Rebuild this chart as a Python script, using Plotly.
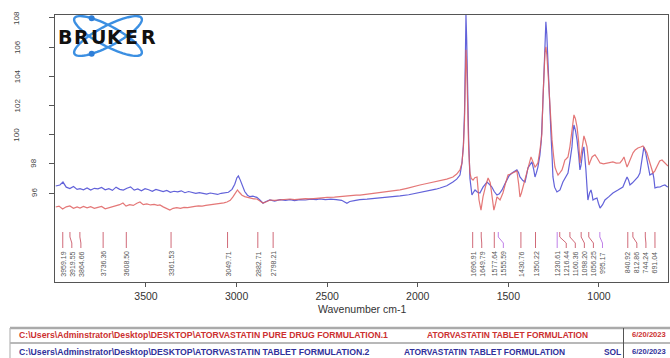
import numpy as np
import plotly.graph_objects as go

# ---------------- data ----------------
wn_blue = [3998, 3975, 3958, 3940, 3920, 3900, 3880, 3864, 3845, 3825, 3805, 3785, 3765, 3745, 3725, 3705,
           3685, 3665, 3645, 3625, 3605, 3585, 3565, 3545, 3525, 3505, 3485, 3465, 3445, 3425, 3405, 3385,
           3365, 3345, 3325, 3305, 3285, 3265, 3245, 3225, 3205, 3185, 3165, 3145, 3125, 3105, 3085, 3064,
           3045, 3025, 3010, 2998, 2990, 2980, 2968, 2955, 2940, 2926, 2910, 2888, 2870, 2854, 2840, 2816,
           2790, 2760, 2730, 2705, 2680, 2650, 2620, 2590, 2560, 2540, 2510, 2480, 2450, 2420, 2391, 2375,
           2350, 2320, 2280, 2240, 2209, 2160, 2120, 2098, 2050, 2020, 1988, 1940, 1900, 1877, 1840, 1806,
           1785, 1767, 1756, 1748, 1742, 1737, 1734, 1730, 1725, 1719, 1712, 1708, 1701, 1690, 1684, 1670,
           1657, 1640, 1618, 1605, 1591, 1578, 1563, 1550, 1535, 1520, 1508, 1495, 1480, 1465, 1453, 1444,
           1436, 1420, 1408, 1400, 1392, 1380, 1370, 1360, 1353, 1345, 1337, 1326, 1318, 1310, 1304, 1298,
           1293, 1288, 1281, 1274, 1265, 1258, 1254, 1245, 1232, 1222, 1215, 1199, 1185, 1171, 1160, 1149,
           1143, 1138, 1130, 1121, 1112, 1105, 1099, 1094, 1088, 1083, 1078, 1072, 1066, 1061, 1052, 1044,
           1038, 1033, 1022, 1011, 1003, 994, 980, 967, 945, 923, 895, 868, 855, 845, 837, 829,
           815, 801, 785, 774, 762, 752, 743, 735, 727, 719, 710, 702, 697, 691, 678, 663,
           650, 636, 625, 619]
val_blue = [96.48, 96.55, 96.75, 96.40, 96.30, 96.45, 96.25, 96.30, 96.22, 96.35, 96.20, 96.32, 96.28, 96.38, 96.22, 96.30,
            96.18, 96.40, 96.25, 96.20, 96.33, 96.42, 96.20, 96.28, 96.15, 96.30, 96.22, 96.12, 96.25, 96.20, 96.10, 96.18,
            96.05, 96.12, 96.08, 96.15, 96.02, 96.10, 96.05, 95.98, 96.02, 95.95, 95.92, 96.00, 95.95, 95.90, 95.98, 96.00,
            96.05, 96.25, 96.60, 97.05, 97.17, 96.90, 96.45, 96.10, 95.85, 95.75, 95.78, 95.70, 95.50, 95.30, 95.40, 95.52,
            95.45, 95.55, 95.50, 95.55, 95.48, 95.55, 95.52, 95.58, 95.55, 95.60, 95.55, 95.58, 95.55, 95.50, 95.30, 95.42,
            95.48, 95.55, 95.58, 95.62, 95.66, 95.72, 95.76, 95.80, 95.88, 95.95, 96.07, 96.18, 96.26, 96.34, 96.50, 96.75,
            96.95, 97.23, 98.06, 99.30, 101.5, 105.5, 108.2, 106.5, 103.0, 99.6, 97.0, 96.4, 95.86, 96.10, 96.21, 96.05,
            96.00, 96.40, 96.75, 96.60, 96.41, 96.10, 95.86, 95.95, 96.21, 96.60, 96.89, 97.20, 97.37, 97.50, 97.58, 97.40,
            97.10, 96.85, 96.75, 97.20, 97.72, 97.95, 98.13, 97.60, 97.10, 97.40, 97.78, 98.60, 99.64, 102.0, 104.64, 106.8,
            107.73, 106.9, 104.64, 102.0, 100.12, 98.30, 97.10, 96.40, 96.07, 96.15, 96.21, 96.75, 97.10, 97.37, 98.20, 99.16,
            100.2, 100.66, 100.3, 99.64, 98.60, 97.58, 97.90, 98.47, 99.0, 99.16, 98.60, 97.58, 96.40, 95.52, 96.00, 96.21,
            95.90, 95.52, 95.60, 95.66, 95.30, 94.97, 95.20, 95.52, 95.75, 96.00, 96.20, 96.41, 96.80, 97.10, 96.90, 96.55,
            96.70, 96.89, 97.10, 97.37, 98.20, 99.16, 98.80, 98.26, 97.70, 97.23, 97.30, 97.37, 97.00, 96.34, 96.40, 96.41,
            96.50, 96.55, 96.45, 96.41]

wn_red = [3998, 3980, 3960, 3940, 3920, 3900, 3880, 3864, 3845, 3825, 3805, 3785, 3765, 3745, 3725, 3705,
          3685, 3665, 3645, 3627, 3610, 3590, 3570, 3550, 3533, 3515, 3495, 3475, 3455, 3435, 3423, 3405,
          3385, 3368, 3350, 3330, 3310, 3290, 3270, 3250, 3230, 3210, 3190, 3170, 3150, 3130, 3110, 3090,
          3070, 3053, 3035, 3020, 3005, 2995, 2985, 2970, 2955, 2940, 2926, 2905, 2888, 2870, 2854, 2835,
          2816, 2790, 2760, 2730, 2705, 2680, 2650, 2620, 2590, 2560, 2540, 2500, 2460, 2420, 2380, 2340,
          2319, 2280, 2240, 2200, 2160, 2120, 2098, 2060, 2020, 1988, 1950, 1910, 1877, 1840, 1806, 1785,
          1767, 1756, 1748, 1742, 1737, 1734, 1730, 1725, 1719, 1712, 1705, 1695, 1685, 1673, 1662, 1651,
          1640, 1625, 1612, 1600, 1591, 1580, 1570, 1563, 1546, 1530, 1515, 1502, 1488, 1475, 1462, 1453,
          1443, 1436, 1428, 1419, 1408, 1397, 1385, 1375, 1363, 1353, 1345, 1337, 1325, 1315, 1309, 1304,
          1298, 1293, 1288, 1281, 1270, 1259, 1250, 1243, 1235, 1226, 1215, 1204, 1196, 1188, 1180, 1171,
          1160, 1149, 1143, 1138, 1130, 1121, 1112, 1105, 1100, 1094, 1089, 1083, 1075, 1066, 1060, 1055,
          1047, 1038, 1030, 1022, 1010, 994, 975, 956, 940, 923, 905, 884, 872, 862, 853, 845,
          837, 829, 820, 812, 800, 785, 770, 757, 745, 735, 727, 719, 710, 702, 692, 680,
          665, 652, 640, 625, 619]
val_red = [95.04, 95.10, 94.90, 95.05, 95.11, 94.95, 95.05, 94.97, 95.08, 94.98, 95.06, 94.95, 95.02, 95.08, 94.92, 94.98,
           95.05, 95.12, 95.20, 95.31, 95.10, 95.20, 95.15, 95.30, 95.38, 95.20, 95.25, 95.18, 95.22, 95.15, 95.18, 95.05,
           94.95, 94.83, 94.95, 95.00, 94.95, 95.02, 95.00, 95.06, 95.08, 95.12, 95.10, 95.15, 95.18, 95.20, 95.25, 95.28,
           95.32, 95.38, 95.50, 95.73, 96.00, 96.21, 96.05, 95.85, 95.75, 95.70, 95.66, 95.60, 95.59, 95.45, 95.31, 95.40,
           95.52, 95.50, 95.55, 95.58, 95.59, 95.55, 95.60, 95.62, 95.60, 95.65, 95.66, 95.70, 95.72, 95.78, 95.82, 95.85,
           95.86, 95.92, 95.98, 96.05, 96.10, 96.18, 96.21, 96.32, 96.42, 96.55, 96.65, 96.75, 96.82, 96.95, 97.10, 97.30,
           97.58, 98.06, 99.2, 101.0, 104.0, 105.81, 104.8, 102.0, 99.0, 97.37, 97.0, 96.89, 97.05, 97.10, 95.52, 94.83,
           95.73, 96.50, 97.03, 96.70, 96.00, 94.83, 95.30, 95.73, 95.52, 96.00, 96.70, 97.23, 97.30, 97.37, 97.45, 97.51,
           96.60, 95.73, 96.00, 96.41, 97.00, 97.58, 98.10, 98.47, 98.10, 97.78, 97.90, 98.06, 99.0, 100.06, 102.5, 104.64,
           105.6, 106.02, 105.5, 104.23, 101.8, 99.64, 98.50, 97.78, 97.50, 97.23, 97.40, 97.58, 97.90, 98.26, 98.35, 98.47,
           99.20, 100.12, 100.90, 101.35, 101.10, 100.53, 99.50, 98.06, 98.50, 99.16, 99.60, 99.91, 99.60, 99.16, 98.50, 97.92,
           98.20, 98.47, 98.55, 98.61, 98.40, 98.06, 98.00, 98.06, 98.10, 98.13, 98.05, 98.06, 98.25, 98.47, 98.10, 97.78,
           98.00, 98.26, 98.50, 98.75, 98.95, 99.09, 99.15, 99.22, 99.00, 98.75, 98.40, 98.06, 97.70, 97.37, 97.50, 97.78,
           98.20, 98.26, 98.10, 97.92, 97.85]

peak_wn = [3959.19, 3919.55, 3864.66, 3736.36, 3608.50, 3361.53, 3049.71, 2882.71, 2798.21,
           1696.91, 1649.79, 1577.64, 1555.59, 1430.76, 1350.22, 1230.61, 1216.44, 1160.36,
           1098.20, 1056.25, 995.17, 840.92, 812.86, 744.24, 691.04]
peak_src = ["A", "A", "A", "A", "A", "A", "A", "A", "A",
            "A", "A", "A", "B", "A", "A", "B", "A", "A",
            "A", "A", "B", "A", "A", "A", "A"]

y_ticks = [96, 98, 100, 102, 104, 106, 108]
x_ticks = [3500, 3000, 2500, 2000, 1500, 1000]

row_files = [r"C:\Users\Adminstrator\Desktop\DESKTOP\ATORVASTATIN PURE DRUG FORMULATION.1",
             r"C:\Users\Adminstrator\Desktop\DESKTOP\ATORVASTATIN TABLET FORMULATION.2"]
row_titles = ["ATORVASTATIN TABLET FORMULATION", "ATORVASTATIN TABLET FORMULATION"]
row_dates = ["6/20/2023", "6/20/2023"]

# ---------------- layout geometry ----------------
W, H = 670, 358
ML, MR, MT, MB = 55, 2, 15, 76
PW, PH = W - ML - MR, H - MT - MB
BOT = H - MB


def fx(px):
    return (px - ML) / PW


def fy(py):
    return (BOT - py) / PH


RED = "#e06060"
BLUE = "#5252d6"
TXT_RED = "#cc3030"
TXT_BLUE = "#30309a"
FONT = "Liberation Sans, Arial, sans-serif"

fig = go.Figure()
fig.add_trace(go.Scatter(x=wn_blue, y=val_blue, mode="lines",
                         line=dict(color=BLUE, width=1.2), opacity=0.9, hoverinfo="skip"))
fig.add_trace(go.Scatter(x=wn_red, y=val_red, mode="lines",
                         line=dict(color=RED, width=1.2), opacity=0.85, hoverinfo="skip"))

shapes = []
annotations = []

# peak markers with leader lines (de-overlapped label positions)
order = sorted(range(len(peak_wn)), key=lambda i: -peak_wn[i])
pos = {}
prev = None
for i in order:
    p = peak_wn[i] if prev is None else min(peak_wn[i], prev - 50)
    pos[i] = p
    prev = p
for i, v in enumerate(peak_wn):
    col = "#d06a78" if peak_src[i] == "A" else "#c080e8"
    p = pos[i]
    shapes.append(dict(type="path", xref="x", yref="paper",
                       path=f"M {v},{fy(232)} L {v},{fy(237)} L {p},{fy(243)} L {p},{fy(248)}",
                       line=dict(color=col, width=1)))
    annotations.append(dict(x=p, xref="x", y=fy(249.5), yref="paper", text=f"{v:.2f}",
                            textangle=-90, xanchor="center", yanchor="top", showarrow=False,
                            font=dict(size=7, color="#555555", family=FONT)))

# y tick labels (rotated)
for t in y_ticks:
    lab = str(t)
    xc = 17 if len(lab) == 3 else 34
    annotations.append(dict(x=fx(xc), xref="paper", y=t, yref="y", text=lab, textangle=-90,
                            xanchor="center", yanchor="middle", showarrow=False,
                            font=dict(size=8, color="#444444", family=FONT)))

# x axis title
annotations.append(dict(x=0.5, xref="paper", y=fy(309), yref="paper", text="Wavenumber cm-1",
                        xanchor="center", yanchor="middle", showarrow=False,
                        font=dict(size=10.5, color="#333333", family=FONT)))

# Bruker logo
def ellipse_pts(cx, cy, a, b, th, n=72):
    t = np.linspace(0, 2 * np.pi, n)
    c, s = np.cos(np.radians(th)), np.sin(np.radians(th))
    xs = cx + a * np.cos(t) * c - b * np.sin(t) * s
    ys = cy + a * np.cos(t) * s + b * np.sin(t) * c
    return xs, ys

LCX, LCY = 108, 36
for th, target_top in ((28, True), (-28, False)):
    xs, ys = ellipse_pts(LCX, LCY, 38, 10, th)
    path = "M " + " L ".join(f"{fx(x):.5f},{fy(y):.5f}" for x, y in zip(xs, ys)) + " Z"
    shapes.append(dict(type="path", xref="paper", yref="paper", path=path,
                       line=dict(color="#3b8fe2", width=2.4)))
    mask = (ys < LCY) if target_top else (ys > LCY)
    idx = np.where(mask)[0]
    k = idx[np.argmin(np.abs(xs[idx] - 92))]
    r = 3
    shapes.append(dict(type="circle", xref="paper", yref="paper",
                       x0=fx(xs[k] - r), x1=fx(xs[k] + r), y0=fy(ys[k] + r), y1=fy(ys[k] - r),
                       fillcolor="#2f7fd8", line=dict(width=0)))

for j, ch in enumerate("BRUKER"):
    annotations.append(dict(x=fx(65 + 16.6 * j), xref="paper", y=fy(37), yref="paper",
                            text=f"<b>{ch}</b>", showarrow=False, xanchor="center", yanchor="middle",
                            font=dict(size=19, color="#111111", family="DejaVu Sans")))

# bottom table
shapes.append(dict(type="line", xref="paper", yref="paper", x0=fx(10), x1=fx(672), y0=fy(328), y1=fy(328),
                   line=dict(color="#aaaaaa", width=2.5)))
shapes.append(dict(type="line", xref="paper", yref="paper", x0=fx(10), x1=fx(672), y0=fy(343), y1=fy(343),
                   line=dict(color="#b8b8b8", width=2)))
shapes.append(dict(type="line", xref="paper", yref="paper", x0=fx(10), x1=fx(10), y0=fy(328), y1=fy(362),
                   line=dict(color="#b8b8b8", width=1.2)))
shapes.append(dict(type="line", xref="paper", yref="paper", x0=fx(623.5), x1=fx(623.5), y0=fy(328), y1=fy(362),
                   line=dict(color="#555555", width=1)))

row_y = [334.5, 351.5]
title_x = [425, 402]
row_cols = [TXT_RED, TXT_BLUE]
for r in range(2):
    annotations.append(dict(x=fx(17), xref="paper", y=fy(row_y[r]), yref="paper", text=f"<b>{row_files[r]}</b>",
                            xanchor="left", yanchor="middle", showarrow=False,
                            font=dict(size=8.7, color=row_cols[r], family=FONT)))
    annotations.append(dict(x=fx(title_x[r]), xref="paper", y=fy(row_y[r]), yref="paper",
                            text=f"<b>{row_titles[r]}</b>", xanchor="left", yanchor="middle",
                            showarrow=False, font=dict(size=8.4, color=row_cols[r], family=FONT)))
    annotations.append(dict(x=fx(630), xref="paper", y=fy(row_y[r]), yref="paper", text=f"<b>{row_dates[r]}</b>",
                            xanchor="left", yanchor="middle", showarrow=False,
                            font=dict(size=7.6, color=row_cols[r], family=FONT)))
annotations.append(dict(x=fx(623), xref="paper", y=fy(row_y[1]), yref="paper", text="<b>SOL</b>",
                        xanchor="right", yanchor="middle", showarrow=False,
                        font=dict(size=8.4, color=TXT_BLUE, family=FONT)))

fig.update_layout(
    width=W, height=H,
    margin=dict(l=ML, r=MR, t=MT, b=MB, pad=0),
    paper_bgcolor="white", plot_bgcolor="white",
    showlegend=False,
    shapes=shapes, annotations=annotations,
    xaxis=dict(range=[4002, 619], tickvals=x_ticks, ticktext=[str(t) for t in x_ticks],
               ticks="outside", ticklen=4, tickcolor="#555555", showgrid=False, zeroline=False,
               showline=True, linecolor="#555555", linewidth=1, mirror=True,
               tickfont=dict(size=10.5, color="#333333", family=FONT)),
    yaxis=dict(range=[89.9, 108.2], tickvals=y_ticks, showticklabels=False,
               ticks="outside", ticklen=5, tickcolor="#555555", showgrid=False, zeroline=False,
               showline=True, linecolor="#555555", linewidth=1, mirror=True),
)

fig.write_html("out.html", config={"displayModeBar": False},
               post_script="document.body.style.margin='0';document.body.style.overflow='hidden';")
